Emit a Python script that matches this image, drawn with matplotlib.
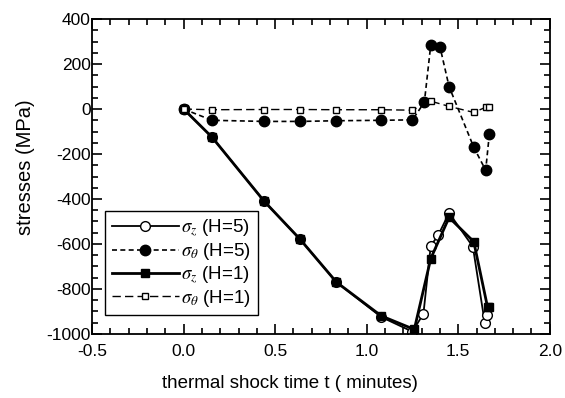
import matplotlib
matplotlib.use("Agg")
import matplotlib.pyplot as plt
from matplotlib.ticker import MultipleLocator

plt.rcParams['font.family'] = ['Liberation Sans', 'DejaVu Sans']
plt.rcParams['mathtext.fontset'] = 'stix'
plt.rcParams['axes.unicode_minus'] = False

# sigma_z, H=5 (open circles)
t_z5 = [0.0, 0.155, 0.44, 0.635, 0.835, 1.08, 1.25, 1.31, 1.35, 1.39, 1.45, 1.58, 1.645, 1.655]
s_z5 = [0, -125, -410, -578, -770, -925, -990, -910, -608, -562, -462, -612, -950, -918]

# sigma_theta, H=5 (filled circles)
t_t5 = [0.0, 0.155, 0.44, 0.635, 0.835, 1.08, 1.25, 1.315, 1.35, 1.40, 1.45, 1.585, 1.65, 1.67]
s_t5 = [0, -50, -55, -55, -52, -50, -48, 30, 285, 278, 100, -170, -272, -112]

# sigma_z, H=1 (filled squares)
t_z1 = [0.0, 0.155, 0.44, 0.635, 0.835, 1.08, 1.26, 1.35, 1.45, 1.585, 1.66, 1.67]
s_z1 = [0, -125, -410, -578, -770, -920, -980, -665, -482, -590, -880, -880]

# sigma_theta, H=1 (open squares)
t_t1 = [0.0, 0.155, 0.44, 0.635, 0.835, 1.08, 1.25, 1.35, 1.45, 1.585, 1.65, 1.67]
s_t1 = [0, -3, -2, -2, -3, -3, -5, 35, 12, -15, 8, 8]

fig = plt.figure(figsize=(5.65, 3.98), dpi=100)
ax = fig.add_axes([0.163, 0.161, 0.810, 0.791])

ax.plot(t_z5, s_z5, '-', color='k', lw=1.3, marker='o', ms=7,
        mfc='white', mec='k', mew=1.0, label=r'$\sigma_z$ (H=5)')
ax.plot(t_t5, s_t5, color='k', lw=1.2, ls=(0, (3, 2)), marker='o', ms=7.5,
        mfc='k', mec='k', label=r'$\sigma_\theta$ (H=5)')
ax.plot(t_z1, s_z1, '-', color='k', lw=2.0, marker='s', ms=6,
        mfc='k', mec='k', label=r'$\sigma_z$ (H=1)')
ax.plot(t_t1, s_t1, color='k', lw=1.0, ls=(0, (6, 3)), marker='s', ms=5,
        mfc='white', mec='k', mew=1.0, label=r'$\sigma_\theta$ (H=1)')

ax.set_xlim(-0.5, 2.0)
ax.set_ylim(-1000, 400)
ax.xaxis.set_major_locator(MultipleLocator(0.5))
ax.xaxis.set_minor_locator(MultipleLocator(0.1))
ax.yaxis.set_major_locator(MultipleLocator(200))
ax.yaxis.set_minor_locator(MultipleLocator(50))
ax.tick_params(which='both', direction='in', top=True, right=True,
               labelsize=12.5, width=1.2)
ax.tick_params(which='major', length=7)
ax.tick_params(which='minor', length=4)
ax.tick_params(axis='x', which='major', pad=7)
ax.tick_params(axis='y', which='major', pad=1)
ax.xaxis.set_major_formatter(plt.FuncFormatter(lambda v, p: '%.1f' % v))
for sp in ax.spines.values():
    sp.set_linewidth(1.3)

ax.set_xlabel('thermal shock time t ( minutes)', fontsize=13.5)
ax.xaxis.set_label_coords(0.432, -0.13)
ax.set_ylabel('stresses (MPa)', fontsize=14.5)
ax.yaxis.set_label_coords(-0.125, 0.53)

leg = ax.legend(loc='lower left', bbox_to_anchor=(0.008, 0.03), fontsize=13.5,
                numpoints=1, handlelength=3.6, handletextpad=0.1,
                labelspacing=0.1, borderpad=0.35, fancybox=False,
                framealpha=1, edgecolor='k')
leg.get_frame().set_linewidth(1.0)

fig.savefig('out.png', dpi=100)
